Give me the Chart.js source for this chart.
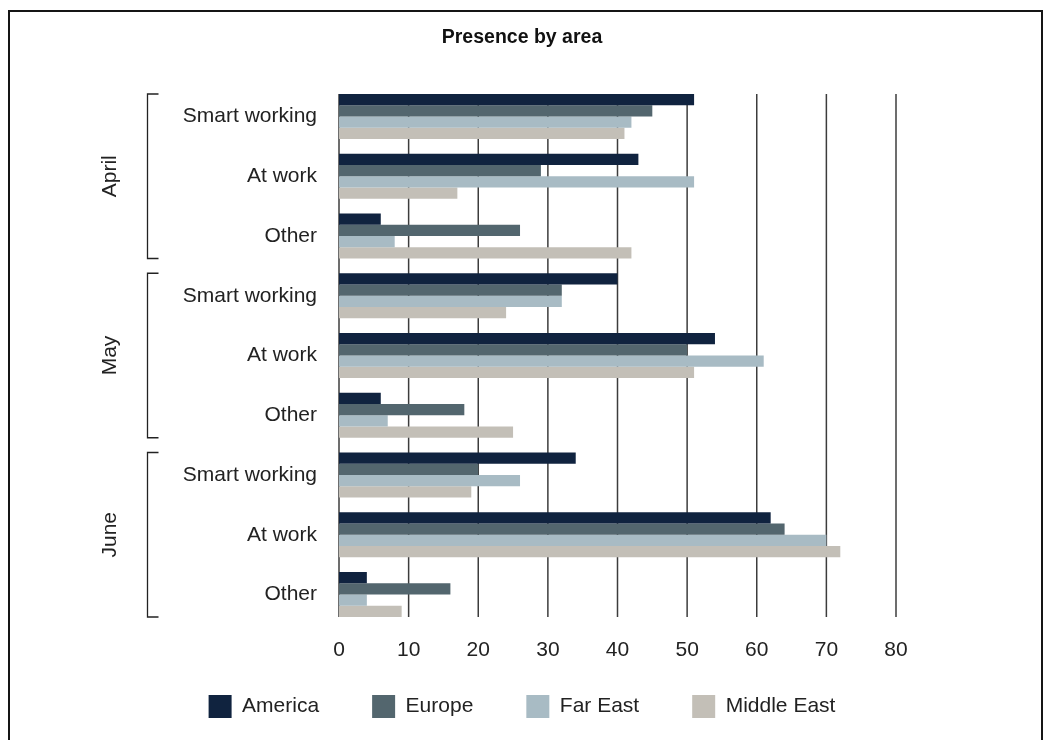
<!DOCTYPE html>
<html>
<head>
<meta charset="utf-8">
<title>Presence by area</title>
<script src="https://cdn.jsdelivr.net/npm/chart.js@4.4.1/dist/chart.umd.min.js"></script>
<style>
  html, body { margin: 0; padding: 0; background: #fff; }
  #wrap { position: relative; width: 1044px; height: 740px; overflow: hidden; }
  #chartPresence { position: absolute; left: 0; top: 0; }
  .frame {
    position: absolute; left: 8px; top: 10px; width: 1031px; height: 800px;
    border: 2px solid #151515; pointer-events: none;
  }
</style>
</head>
<body>
<div id="wrap">
  <canvas id="chartPresence" width="1044" height="740"></canvas>
  <div class="frame"></div>
</div>
<script>
// Presence by area: one row group per month, one bar per region.
const months = ['April', 'May', 'June'];
const situations = ['Smart working', 'At work', 'Other'];
const labels = months.flatMap(() => situations);

const america    = [51, 43, 6, 40, 54, 6, 34, 62, 4];
const europe     = [45, 29, 26, 32, 50, 18, 20, 64, 16];
const farEast    = [42, 51, 8, 32, 61, 7, 26, 70, 4];
const middleEast = [41, 17, 42, 24, 51, 25, 19, 72, 9];

const xTicks = [0, 10, 20, 30, 40, 50, 60, 70, 80];

const FONT = "'Liberation Sans', Arial, sans-serif";
const INK = '#222';

function barEdges(chart, index) {
  const first = chart.getDatasetMeta(0).data[index];
  const last = chart.getDatasetMeta(chart.data.datasets.length - 1).data[index];
  return {
    top: first.y - first.height / 2,
    bottom: last.y + last.height / 2,
  };
}

// the x axis is kept short so the legend sits close under it;
// give its labels room again once the layout is done
const axisRoom = {
  id: 'axisRoom',
  afterLayout(chart) {
    const x = chart.scales.x;
    x.bottom = x.top + 44;
    x.height = 44;
  },
};

// vertical value lines, only as tall as the bars
const valueLines = {
  id: 'valueLines',
  beforeDatasetsDraw(chart) {
    const { ctx, scales: { x } } = chart;
    const top = barEdges(chart, 0).top;
    const bottom = barEdges(chart, labels.length - 1).bottom;
    ctx.save();
    ctx.strokeStyle = '#3c3c3c';
    ctx.lineWidth = 1.5;
    xTicks.forEach(v => {
      const px = x.getPixelForValue(v);
      ctx.beginPath();
      ctx.moveTo(px, top);
      ctx.lineTo(px, bottom);
      ctx.stroke();
    });
    ctx.restore();
  },
};

// month brackets and rotated month names on the left
const monthBrackets = {
  id: 'monthBrackets',
  afterDraw(chart) {
    const { ctx, chartArea } = chart;
    const bx = chartArea.left - 191.5;
    ctx.save();
    ctx.strokeStyle = INK;
    ctx.lineWidth = 1.3;
    ctx.fillStyle = INK;
    ctx.font = '21px ' + FONT;
    ctx.textAlign = 'center';
    ctx.textBaseline = 'middle';
    months.forEach((m, i) => {
      const top = barEdges(chart, i * situations.length).top;
      const bottom = barEdges(chart, i * situations.length + situations.length - 1).bottom;
      ctx.beginPath();
      ctx.moveTo(bx + 11, top);
      ctx.lineTo(bx, top);
      ctx.lineTo(bx, bottom);
      ctx.lineTo(bx + 11, bottom);
      ctx.stroke();
      ctx.save();
      ctx.translate(bx - 37, (top + bottom) / 2);
      ctx.rotate(-Math.PI / 2);
      ctx.fillText(m, 0, 0);
      ctx.restore();
    });
    ctx.restore();
  },
};

const series = [
  { label: 'America', data: america, color: '#10233f' },
  { label: 'Europe', data: europe, color: '#53666e' },
  { label: 'Far East', data: farEast, color: '#a8bbc4' },
  { label: 'Middle East', data: middleEast, color: '#c3bfb7' },
];

const ctx = document.getElementById('chartPresence').getContext('2d');
new Chart(ctx, {
  type: 'bar',
  data: {
    labels: labels,
    datasets: series.map(s => ({
      label: s.label,
      data: s.data,
      backgroundColor: s.color,
      borderWidth: 0,
      categoryPercentage: 0.753,
      barPercentage: 1,
    })),
  },
  options: {
    indexAxis: 'y',
    responsive: false,
    animation: false,
    layout: { padding: { left: 148, right: 148, top: 0, bottom: 12 } },
    plugins: {
      title: {
        display: true,
        text: 'Presence by area',
        color: '#111',
        font: { family: FONT, size: 19.5, weight: 'bold', lineHeight: 1.2 },
        padding: { top: 26, bottom: 37.2 },
      },
      legend: {
        position: 'bottom',
        labels: {
          boxWidth: 23,
          boxHeight: 23,
          padding: 53,
          color: INK,
          font: { family: FONT, size: 21 },
        },
      },
      tooltip: { enabled: false },
    },
    scales: {
      x: {
        min: 0,
        max: 80,
        grid: { display: false, drawTicks: false },
        border: { display: false },
        ticks: {
          stepSize: 10,
          padding: 13.5,
          color: INK,
          font: { family: FONT, size: 21 },
        },
        afterFit(scale) { scale.height = 17.6; },
      },
      y: {
        grid: { display: false, drawTicks: false },
        border: { display: false },
        ticks: {
          padding: 22,
          color: INK,
          font: { family: FONT, size: 21 },
        },
        afterFit(scale) { scale.width = 191; },
      },
    },
  },
  plugins: [axisRoom, valueLines, monthBrackets],
});
</script>
</body>
</html>
